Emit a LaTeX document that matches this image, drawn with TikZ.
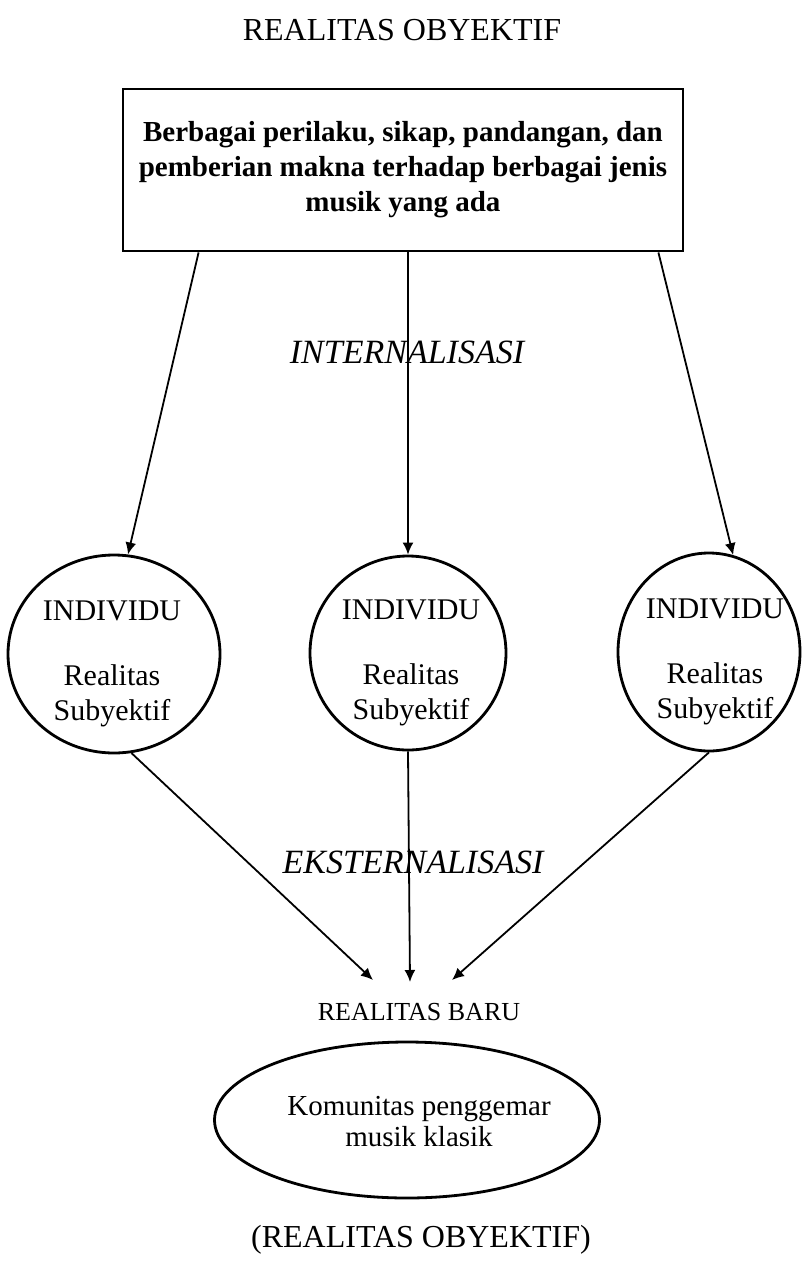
\documentclass[tikz,border=0pt]{standalone}
\usepackage{fontspec}
\setmainfont{Liberation Serif}
\usetikzlibrary{shapes.geometric,arrows.meta,calc}
\begin{document}
\begin{tikzpicture}[x=1pt,y=-1pt,
  shapeline/.style={draw,line width=2.8pt},
  circ/.style={shapeline,ellipse,inner sep=0pt},
  arr/.style={line width=1.8pt,-{Latex[length=12pt,width=11pt]}},
  lab/.style={inner sep=0pt},
  ctext/.style={inner sep=0pt,align=center,font=\fontsize{30}{35}\selectfont},
  flow/.style={inner sep=0pt,font=\itshape\fontsize{34}{40}\selectfont}]
\useasboundingbox (0,0) rectangle (801,1267);
% title
\node[lab,font=\fontsize{32}{36}\selectfont] (title) at (402,30) {REALITAS OBYEKTIF};
% top box
\node[shapeline,minimum width=560,minimum height=162,align=center,inner sep=0pt,
      font=\bfseries\fontsize{29}{35}\selectfont] (box) at (403,170)
  {Berbagai perilaku, sikap, pandangan, dan\\pemberian makna terhadap berbagai jenis\\musik yang ada};
% circles
\node[circ,minimum width=212,minimum height=198] (c1) at (114,654) {};
\node[circ,minimum width=196,minimum height=194] (c2) at (408,653) {};
\node[circ,minimum width=182,minimum height=198] (c3) at (709,652) {};
\node[ctext] (t1) at ($(c1.center)+(-2,10)$) {INDIVIDU\\[30pt]Realitas\\Subyektif};
\node[ctext] (t2) at ($(c2.center)+(3,10)$) {INDIVIDU\\[30pt]Realitas\\Subyektif};
\node[ctext] (t3) at ($(c3.center)+(6,10)$) {INDIVIDU\\[30pt]Realitas\\Subyektif};
% flow labels
\node[flow] (int) at (407,352) {INTERNALISASI};
\node[flow] (eks) at (413,862) {EKSTERNALISASI};
% new reality
\node[lab,font=\fontsize{26}{30}\selectfont] (rb) at (419,1012) {REALITAS BARU};
\node[circ,minimum width=385,minimum height=156] (ell) at (407,1120) {};
\node[ctext,font=\fontsize{29}{31}\selectfont] (et) at (419,1122) {Komunitas penggemar\\musik klasik};
\node[lab,font=\fontsize{32}{36}\selectfont] (bottom) at (421,1240) {(REALITAS OBYEKTIF)};
% arrow end points near REALITAS BARU
\coordinate (e1) at (373,980);
\coordinate (e2) at (410,982);
\coordinate (e3) at (452,980);
% internalisation arrows
\draw[arr] ([xshift=77pt]box.south west) -- (c1.82);
\draw[arr] ([xshift=5pt]box.south) -- (c2.north);
\draw[arr] ([xshift=-26pt]box.south east) -- (c3.76);
% externalisation arrows
\draw[arr] (c1.-80) -- (e1);
\draw[arr] (c2.south) -- (e2);
\draw[arr] (c3.south) -- (e3);
\end{tikzpicture}
\end{document}
